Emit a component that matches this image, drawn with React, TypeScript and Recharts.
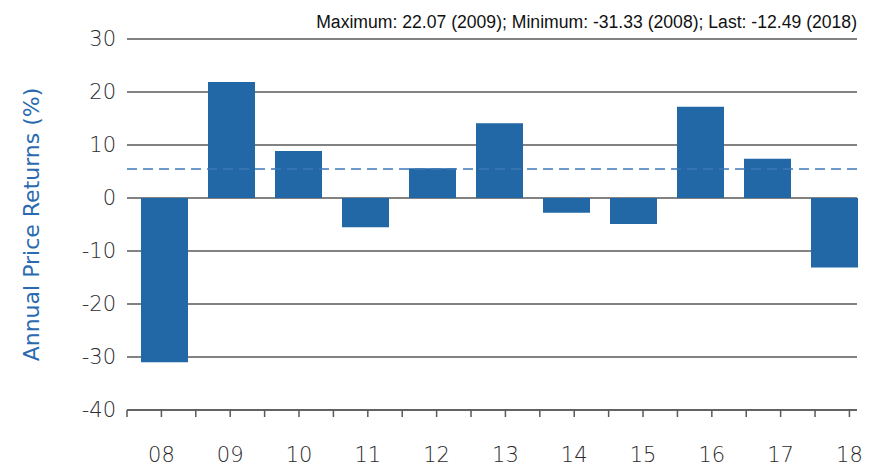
import { BarChart, Bar, XAxis, YAxis, CartesianGrid, ReferenceLine } from 'recharts'

const years = ['08', '09', '10', '11', '12', '13', '14', '15', '16', '17', '18']
const returns = [-31.0, 21.9, 8.85, -5.5, 5.6, 14.1, -2.8, -4.9, 17.2, 7.4, -13.1]
const averageReturn = 5.45
const yTicks = [-40, -30, -20, -10, 0, 10, 20, 30]
const halfTicks = [0, 0.5, 1, 1.5, 2, 2.5, 3, 3.5, 4, 4.5, 5, 5.5, 6, 6.5, 7, 7.5, 8, 8.5, 9, 9.5, 10, 10.5]
const summary = 'Maximum: 22.07 (2009); Minimum: -31.33 (2008); Last: -12.49 (2018)'

// mid = where each year's label sits on the tick axis
const data = years.map((year, i) => ({ year, value: returns[i], mid: i + 0.5 }))

const barColor = '#2267a6'
const gridColor = '#595959'
const textColor = '#2b2b2b'
const axisFont = '"DejaVu Sans", sans-serif'
const tickLen = 7
const labelGap = 30

function yearLabel(v: number) {
  const k = v - 0.5
  if (Number.isInteger(k) && k >= 0 && k < years.length) {
    return years[k]
  }
  return ''
}

function YearTick(props: any) {
  const { x, y, payload } = props
  const axisY = y - tickLen - labelGap
  return (
    <g>
      <line x1={x} x2={x} y1={axisY} y2={axisY + tickLen} stroke={gridColor} strokeWidth={1.5} />
      <text
        x={x}
        y={y}
        dy="0.71em"
        textAnchor="middle"
        fill={textColor}
        fontSize={21}
        fontFamily={axisFont}
        fontWeight={300}
      >
        {yearLabel(payload.value)}
      </text>
    </g>
  )
}

export default function App() {
  return (
    <div style={{ position: 'absolute', left: 0, top: 0, width: 875, height: 469, background: '#fff' }}>
      <div
        style={{
          position: 'absolute',
          right: 18,
          top: 12,
          fontFamily: '"Liberation Sans", Arial, sans-serif',
          fontSize: 17.6,
          lineHeight: '20px',
          color: '#111',
          whiteSpace: 'nowrap',
        }}
      >
        {summary}
      </div>
      <BarChart
        width={875}
        height={469}
        data={data}
        margin={{ top: 39, right: 18, bottom: 0, left: 20 }}
      >
        <CartesianGrid vertical={false} stroke={gridColor} strokeWidth={1.5} />
        <XAxis dataKey="year" hide height={0} padding={{ left: 4, right: -11 }} />
        <XAxis
          xAxisId="ticks"
          dataKey="mid"
          type="number"
          domain={[0, 10.61]}
          ticks={halfTicks}
          allowDataOverflow
          interval={0}
          height={59}
          stroke={gridColor}
          strokeWidth={1.5}
          tickLine={false}
          tickSize={tickLen}
          tickMargin={labelGap}
          tick={<YearTick />}
        />
        <YAxis
          domain={[-40, 30]}
          ticks={yTicks}
          interval={0}
          width={107}
          axisLine={false}
          tickLine={false}
          tickSize={0}
          tickMargin={11}
          tick={{ fill: textColor, fontSize: 21, fontFamily: axisFont, fontWeight: 300 }}
          label={{
            value: 'Annual Price Returns (%)',
            angle: -90,
            position: 'insideLeft',
            offset: 11,
            fill: '#2a6ab0',
            fontSize: 22,
            fontFamily: axisFont,
            fontWeight: 400,
            style: { textAnchor: 'middle' },
          }}
        />
        <ReferenceLine y={averageReturn} stroke="#3d78b8" strokeWidth={1.5} strokeDasharray="10 6" />
        <Bar dataKey="value" fill={barColor} barSize={47} isAnimationActive={false} />
      </BarChart>
    </div>
  )
}
